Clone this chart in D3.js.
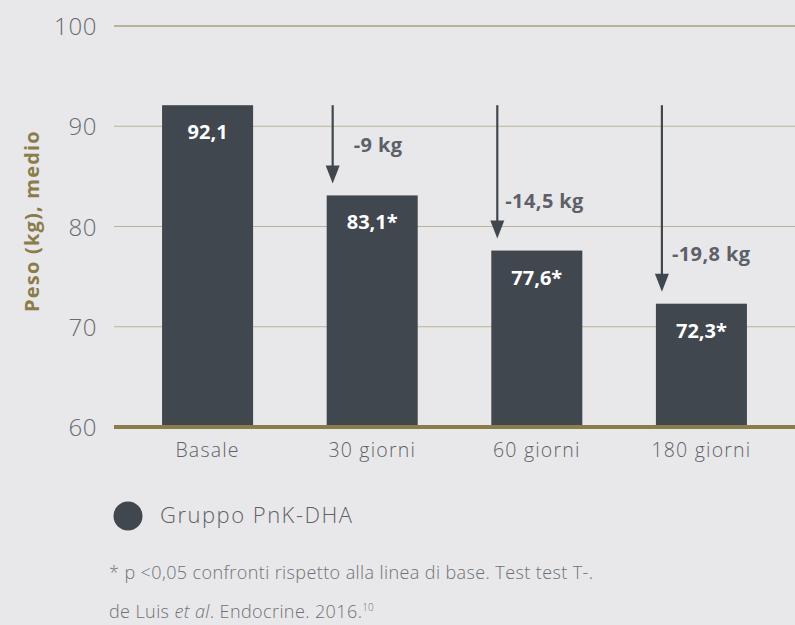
<!DOCTYPE html>
<html>
<head>
<meta charset="utf-8">
<script src="https://cdn.jsdelivr.net/npm/d3@7"></script>
<style>
  html, body { margin: 0; padding: 0; background: #e8e8ea; }
  svg { display: block; }
  text { font-family: "Open Sans", "Noto Sans", sans-serif; }
</style>
</head>
<body>
<svg id="chart" width="795" height="625"></svg>
<script>
// Mean body weight (kg) at each time point
const categories = ["Basale", "30 giorni", "60 giorni", "180 giorni"];
const weights = [92.1, 83.1, 77.6, 72.3];
const significant = [false, true, true, true];
const yTicks = [60, 70, 80, 90, 100];
const seriesName = "Gruppo PnK-DHA";
const yTitle = "Peso (kg), medio";
const footnote = "* p <0,05 confronti rispetto alla linea di base. Test test T-.";

const plotLeft = 114, plotRight = 795, plotTop = 26, plotBottom = 427;

const barColor = "#41474f";
const olive = "#8a7d4a";
const gridColor = "#b9b393";
const tickText = "#696b70";
const softText = "#5f6268";
const noteText = "#6f7176";

const svg = d3.select("#chart");
const fmt = v => d3.format(".1f")(v).replace(".", ",").replace(/,0$/, "");

const x = d3.scaleBand()
  .domain(categories)
  .range([plotLeft, plotRight])
  .paddingInner(0.447)
  .paddingOuter(0.292);

const y = d3.scaleLinear().domain([60, 100]).range([plotBottom, plotTop]);

// Horizontal grid lines
svg.append("g")
  .selectAll("line")
  .data(yTicks.filter(t => t > 60))
  .join("line")
  .attr("x1", plotLeft).attr("x2", plotRight)
  .attr("y1", d => y(d)).attr("y2", d => y(d))
  .attr("stroke", d => d === 100 ? olive : gridColor)
  .attr("stroke-width", 1.2);

// Y axis tick labels
const yAxis = svg.append("g")
  .attr("transform", `translate(${plotLeft - 17},0)`)
  .call(d3.axisLeft(y).tickValues(yTicks).tickSize(0).tickPadding(0));
yAxis.select(".domain").remove();
yAxis.selectAll("text")
  .attr("font-family", "'Open Sans', sans-serif")
  .attr("font-size", 24)
  .attr("font-weight", 300)
  .attr("letter-spacing", 0.6)
  .attr("dy", "0.36em")
  .attr("fill", tickText);

// Bars
svg.append("g")
  .selectAll("rect")
  .data(weights)
  .join("rect")
  .attr("x", (d, i) => x(categories[i]))
  .attr("width", x.bandwidth())
  .attr("y", d => y(d))
  .attr("height", d => y(60) - y(d))
  .attr("fill", barColor);

// Baseline at 60
svg.append("line")
  .attr("x1", plotLeft).attr("x2", plotRight)
  .attr("y1", y(60)).attr("y2", y(60))
  .attr("stroke", olive)
  .attr("stroke-width", 4);

// Value labels inside bars
svg.append("g")
  .selectAll("text")
  .data(weights)
  .join("text")
  .attr("x", (d, i) => x(categories[i]) + x.bandwidth() / 2)
  .attr("y", d => y(d) + 34)
  .attr("text-anchor", "middle")
  .attr("font-size", 20)
  .attr("font-weight", 700)
  .attr("fill", "#ffffff")
  .text((d, i) => fmt(d) + (significant[i] ? "*" : ""));

// X axis labels
const xAxis = svg.append("g")
  .attr("transform", `translate(0,${plotBottom + 30})`)
  .call(d3.axisBottom(x).tickSize(0).tickPadding(0));
xAxis.select(".domain").remove();
xAxis.selectAll("text")
  .attr("font-family", "'Open Sans', sans-serif")
  .attr("font-size", 19.5)
  .attr("font-weight", 300)
  .attr("letter-spacing", 1.2)
  .attr("dy", 0)
  .attr("y", 0)
  .attr("fill", softText);

// Arrows showing the loss from baseline
const base = weights[0];
const drops = weights.slice(1).map((w, k) => ({ cat: categories[k + 1], w, loss: base - w }));
const labelShift = [21, 8, 10];

const arrows = svg.append("g");
arrows.selectAll("path")
  .data(drops)
  .join("path")
  .attr("d", d => {
    const ax = x(d.cat) + 6;
    return `M${ax},${y(base)} L${ax},${y(d.w) - 28}`;
  })
  .attr("stroke", barColor)
  .attr("stroke-width", 2.2)
  .attr("fill", "none");
arrows.selectAll("polygon")
  .data(drops)
  .join("polygon")
  .attr("points", d => {
    const ax = x(d.cat) + 6, tip = y(d.w) - 12;
    return `${ax - 7},${tip - 18} ${ax + 7},${tip - 18} ${ax},${tip}`;
  })
  .attr("fill", barColor);
arrows.selectAll("text")
  .data(drops)
  .join("text")
  .attr("x", (d, i) => x(d.cat) + 6 + labelShift[i])
  .attr("y", d => y(d.w) - 12 - 31)
  .attr("font-size", 20)
  .attr("font-weight", 700)
  .attr("letter-spacing", 0.4)
  .attr("fill", "#5d6068")
  .text(d => "-" + fmt(d.loss) + " kg");

// Y axis title
svg.append("text")
  .attr("transform", `translate(39,221) rotate(-90)`)
  .attr("text-anchor", "middle")
  .attr("font-size", 20)
  .attr("font-weight", 700)
  .attr("letter-spacing", 1.2)
  .attr("fill", olive)
  .text(yTitle);

// Legend
svg.append("circle")
  .attr("cx", 128).attr("cy", 516).attr("r", 14.5)
  .attr("fill", barColor);
svg.append("text")
  .attr("x", 160).attr("y", 523)
  .attr("font-size", 22)
  .attr("font-weight", 300)
  .attr("letter-spacing", 1.5)
  .attr("fill", softText)
  .text(seriesName);

// Footnotes
svg.append("text")
  .attr("x", 109).attr("y", 579)
  .attr("font-size", 18)
  .attr("font-weight", 300)
  .attr("letter-spacing", 0.4)
  .attr("fill", noteText)
  .text(footnote);

const ref = svg.append("text")
  .attr("x", 109).attr("y", 618)
  .attr("font-size", 18)
  .attr("font-weight", 300)
  .attr("letter-spacing", 0.4)
  .attr("fill", noteText);
ref.append("tspan").text("de Luis ");
ref.append("tspan").attr("font-style", "italic").text("et al");
ref.append("tspan").text(". Endocrine. 2016.");
ref.append("tspan").attr("font-size", 10).attr("dy", -7).attr("letter-spacing", 0).text("10");
</script>
</body>
</html>
